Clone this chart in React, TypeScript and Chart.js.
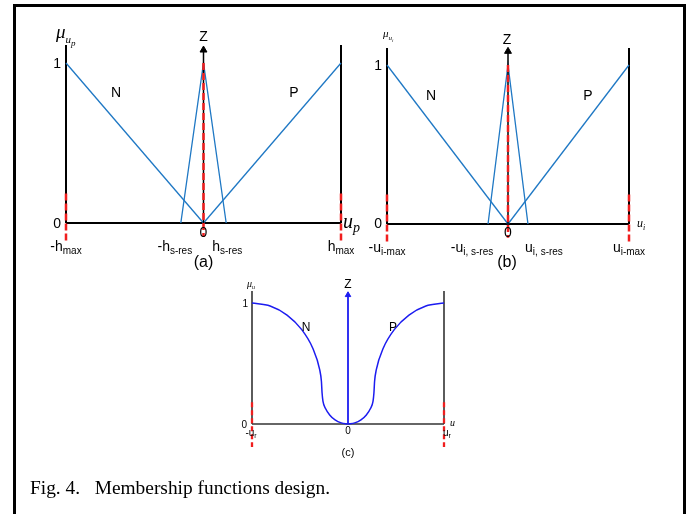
import React, { useEffect, useRef } from 'react';
import { Chart, registerables } from 'chart.js';
Chart.register(...registerables);

const W = 691;
const H = 514;

// ---- Panels (a) and (b): triangular membership functions ----
const nX = [-1, 0];
const nY = [1, 0];
const pX = [0, 1];
const pY = [0, 1];
const zX = [-0.165, 0, 0.165];
const zY = [0, 1, 0];
const tickVals = [-1, -0.165, 0.165, 1];
const ticksA: [string, string][] = [['-h', 'max'], ['-h', 's-res'], ['h', 's-res'], ['h', 'max']];
const ticksB: [string, string][] = [['-u', 'i-max'], ['-u', 'i, s-res'], ['u', 'i, s-res'], ['u', 'i-max']];
const redSide = [0.185, -0.115];
const redCenter = [1, -0.087];

// ---- Panel (c): curved membership functions ----
const cNX = [-1, -0.811, -0.635, -0.484, -0.368, -0.295, -0.277, -0.27, -0.261, -0.234, -0.191, -0.135, -0.07, 0];
const cNY = [1, 0.975, 0.9, 0.782, 0.628, 0.449, 0.353, 0.256, 0.19, 0.128, 0.075, 0.034, 0.009, 0];
const cPX = [0, 0.07, 0.135, 0.191, 0.234, 0.261, 0.27, 0.277, 0.295, 0.368, 0.484, 0.635, 0.811, 1];
const cPY = [0, 0.009, 0.034, 0.075, 0.128, 0.19, 0.256, 0.353, 0.449, 0.628, 0.782, 0.9, 0.975, 1];
const tickValsC = [-1, 1];
const ticksC: [string, string][] = [['-u', 'r'], ['u', 'r']];
const redSideC = [0.18, -0.19];

const caption = 'Fig. 4.   Membership functions design.';

const SANS = '"Liberation Sans", Arial, sans-serif';
const SERIF = '"Liberation Serif", "Times New Roman", serif';
const BLUE = '#1f78c4';
const BLUE_C = '#1c1cf0';
const RED = '#f01e1e';

type Pt = { x: number; y: number };
const pts = (xs: number[], ys: number[]): Pt[] => xs.map((x, i) => ({ x, y: ys[i] }));

function lineDs(data: Pt[], color: string, width: number, extra: any = {}) {
  return {
    data,
    borderColor: color,
    backgroundColor: color,
    borderWidth: width,
    pointRadius: 0,
    showLine: true,
    fill: false,
    clip: false,
    tension: 0,
    ...extra,
  };
}

type Part = [string, string, number?];
function rich(ctx: CanvasRenderingContext2D, x: number, y: number, parts: Part[], align: 'left' | 'center' | 'right') {
  let total = 0;
  const ws: number[] = [];
  for (const p of parts) {
    ctx.font = p[1];
    const w = ctx.measureText(p[0]).width;
    ws.push(w);
    total += w;
  }
  let cx = align === 'center' ? x - total / 2 : align === 'right' ? x - total : x;
  ctx.textAlign = 'left';
  parts.forEach((p, i) => {
    ctx.font = p[1];
    ctx.fillText(p[0], cx, y + (p[2] || 0));
    cx += ws[i];
  });
}

type DrawFn = (ctx: CanvasRenderingContext2D, px: (v: number) => number, py: (v: number) => number) => void;

function textPlugin(draw: DrawFn) {
  return {
    id: 'labels',
    afterDatasetsDraw(chart: any) {
      const ctx = chart.ctx as CanvasRenderingContext2D;
      const px = (v: number) => chart.scales.x.getPixelForValue(v);
      const py = (v: number) => chart.scales.y.getPixelForValue(v);
      ctx.save();
      ctx.fillStyle = '#000';
      ctx.textBaseline = 'alphabetic';
      draw(ctx, px, py);
      ctx.restore();
    },
  };
}

function makeCfg(pad: any, ymax: number, datasets: any[], draw: DrawFn): any {
  return {
    type: 'scatter',
    data: { datasets },
    options: {
      responsive: false,
      animation: false,
      devicePixelRatio: 1,
      events: [],
      layout: { padding: pad },
      scales: {
        x: { type: 'linear', min: -1, max: 1, display: false },
        y: { type: 'linear', min: 0, max: ymax, display: false },
      },
      plugins: { legend: { display: false }, tooltip: { enabled: false } },
    },
    plugins: [textPlugin(draw)],
  };
}

function triDatasets(ymax: number, arrowY: number) {
  const dash = { borderDash: [7, 3] };
  return [
    lineDs(pts([0, 0], redCenter), RED, 2.5, dash),
    lineDs(pts([-1, -1], redSide), RED, 2.5, dash),
    lineDs(pts([1, 1], redSide), RED, 2.5, dash),
    lineDs(pts([0, 0], [0, arrowY]), '#000', 1.5, {
      pointRadius: [0, 4],
      pointStyle: 'triangle',
      pointBackgroundColor: '#000',
      pointBorderColor: '#000',
      pointBorderWidth: 1,
    }),
    lineDs(pts(zX, zY), BLUE, 1.3),
    lineDs(pts(nX, nY), BLUE, 1.3),
    lineDs(pts(pX, pY), BLUE, 1.3),
    lineDs(pts([-1, -1], [0, ymax]), '#000', 2),
    lineDs(pts([1, 1], [0, ymax]), '#000', 2),
    lineDs(pts([-1, 1], [0, 0]), '#000', 2),
  ];
}

const YMAX_A = 1.1125;
const YMAX_B = 1.107;
const YMAX_C = 1.099;

function cfgA() {
  return makeCfg({ left: 66, right: W - 341, top: 45, bottom: H - 223 }, YMAX_A, triDatasets(YMAX_A, 1.081), (ctx, px, py) => {
    const f14 = `14px ${SANS}`;
    rich(ctx, px(-1) - 5, py(1) + 5, [['1', f14]], 'right');
    rich(ctx, px(-1) - 5, py(0) + 5, [['0', f14]], 'right');
    rich(ctx, px(0), py(0) + 14, [['0', f14]], 'center');
    rich(ctx, px(-1) - 10, py(YMAX_A) - 7, [['μ', `italic 19px ${SERIF}`], ['u', `italic 11px ${SERIF}`, 5], ['p', `italic 9px ${SERIF}`, 8]], 'left');
    rich(ctx, px(0), py(YMAX_A) - 4, [['Z', f14]], 'center');
    rich(ctx, px(-0.636), py(0.79), [['N', f14]], 'center');
    rich(ctx, px(0.658), py(0.79), [['P', f14]], 'center');
    rich(ctx, px(1) + 2, py(0) + 5, [['u', `italic 20px ${SERIF}`], ['p', `italic 14px ${SERIF}`, 4]], 'left');
    const offs = [0, -6, 1, 0];
    tickVals.forEach((v, i) => {
      rich(ctx, px(v) + offs[i], py(0) + 28, [[ticksA[i][0], f14], [ticksA[i][1], `10px ${SANS}`, 3]], 'center');
    });
    rich(ctx, px(0), py(0) + 44, [['(a)', `16px ${SANS}`]], 'center');
  });
}

function cfgB() {
  return makeCfg({ left: 387, right: W - 629, top: 48, bottom: H - 224 }, YMAX_B, triDatasets(YMAX_B, 1.086), (ctx, px, py) => {
    const f14 = `14px ${SANS}`;
    rich(ctx, px(-1) - 5, py(1) + 5, [['1', f14]], 'right');
    rich(ctx, px(-1) - 5, py(0) + 4, [['0', f14]], 'right');
    rich(ctx, px(0), py(0) + 13, [['0', f14]], 'center');
    rich(ctx, px(-1) - 4, py(YMAX_B) - 11, [['μ', `italic 11px ${SERIF}`], ['u', `italic 7px ${SERIF}`, 3], ['i', `italic 5px ${SERIF}`, 5]], 'left');
    rich(ctx, px(0) - 1, py(YMAX_B) - 4, [['Z', f14]], 'center');
    rich(ctx, px(-0.636), py(0.78), [['N', f14]], 'center');
    rich(ctx, px(0.661), py(0.78), [['P', f14]], 'center');
    rich(ctx, px(1) + 8, py(0) + 3, [['u', `italic 12px ${SERIF}`], ['i', `italic 8px ${SERIF}`, 3]], 'left');
    const offs = [0, -16, 16, 0];
    tickVals.forEach((v, i) => {
      rich(ctx, px(v) + offs[i], py(0) + 28, [[ticksB[i][0], f14], [ticksB[i][1], `10px ${SANS}`, 3]], 'center');
    });
    rich(ctx, px(0) - 1, py(0) + 43, [['(b)', `16px ${SANS}`]], 'center');
  });
}

function cfgC() {
  const dash = { borderDash: [5, 3] };
  const datasets = [
    lineDs(pts([-1, -1], redSideC), RED, 2.3, dash),
    lineDs(pts([1, 1], redSideC), RED, 2.3, dash),
    lineDs(pts([0, 0], [0, 1.066]), BLUE_C, 1.8, {
      pointRadius: [0, 3.2],
      pointStyle: 'triangle',
      pointBackgroundColor: BLUE_C,
      pointBorderColor: BLUE_C,
      pointBorderWidth: 1,
    }),
    lineDs(pts(cNX, cNY), BLUE_C, 1.5, { cubicInterpolationMode: 'monotone' }),
    lineDs(pts(cPX, cPY), BLUE_C, 1.5, { cubicInterpolationMode: 'monotone' }),
    lineDs(pts([-1, -1], [0, YMAX_C]), '#333', 1.6),
    lineDs(pts([1, 1], [0, YMAX_C]), '#333', 1.6),
    lineDs(pts([-1, 1], [0, 0]), '#333', 1.6),
  ];
  return makeCfg({ left: 252, right: W - 444, top: 291, bottom: H - 424 }, YMAX_C, datasets, (ctx, px, py) => {
    const f10 = `10px ${SANS}`;
    rich(ctx, px(-1) - 5, py(YMAX_C) - 4, [['μ', `italic 10px ${SERIF}`], ['u', `italic 6px ${SERIF}`, 2]], 'left');
    rich(ctx, px(-1) - 4, py(1) + 4, [['1', f10]], 'right');
    rich(ctx, px(-1) - 5, py(0) + 4, [['0', f10]], 'right');
    rich(ctx, px(0), py(YMAX_C) - 3, [['Z', `12px ${SANS}`]], 'center');
    rich(ctx, px(-0.4375), py(0.769), [['N', `12px ${SANS}`]], 'center');
    rich(ctx, px(0.469), py(0.769), [['P', `12px ${SANS}`]], 'center');
    rich(ctx, px(1) + 6, py(0) + 2, [['u', `italic 10px ${SERIF}`]], 'left');
    rich(ctx, px(0), py(0) + 10, [['0', f10]], 'center');
    const offs = [-1, 3];
    tickValsC.forEach((v, i) => {
      rich(ctx, px(v) + offs[i], py(0) + 12, [[ticksC[i][0], f10], [ticksC[i][1], `7px ${SANS}`, 2]], 'center');
    });
    rich(ctx, px(0), py(0) + 32, [['(c)', `11px ${SANS}`]], 'center');
  });
}

export default function App() {
  const ra = useRef<HTMLCanvasElement>(null);
  const rb = useRef<HTMLCanvasElement>(null);
  const rc = useRef<HTMLCanvasElement>(null);
  useEffect(() => {
    const charts = [
      new Chart(ra.current!, cfgA()),
      new Chart(rb.current!, cfgB()),
      new Chart(rc.current!, cfgC()),
    ];
    return () => charts.forEach((c) => c.destroy());
  }, []);
  const cstyle: React.CSSProperties = { position: 'absolute', left: 0, top: 0, width: W, height: H };
  return (
    <div style={{ position: 'fixed', left: 0, top: 0, width: W, height: H, overflow: 'hidden', background: '#fff' }}>
      <div style={{ position: 'absolute', left: 13, top: 4, width: 673, height: 600, border: '3px solid #000', boxSizing: 'border-box' }} />
      <canvas ref={ra} width={W} height={H} style={cstyle} />
      <canvas ref={rb} width={W} height={H} style={cstyle} />
      <canvas ref={rc} width={W} height={H} style={cstyle} />
      <div style={{ position: 'absolute', left: 30, top: 476, font: `19.4px ${SERIF}`, whiteSpace: 'pre', color: '#000', lineHeight: '23px' }}>
        {caption}
      </div>
    </div>
  );
}
